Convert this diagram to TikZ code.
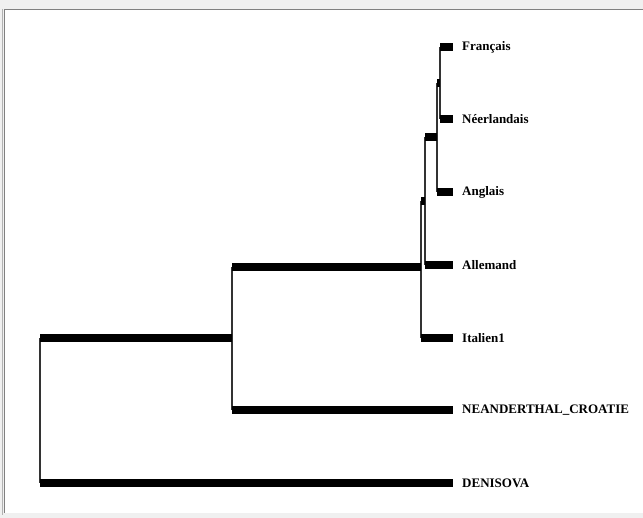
\documentclass[tikz,border=0pt]{standalone}
\usepackage{fontspec}
\setmainfont{Liberation Serif}
\usepackage{tikz}

\tikzset{
	branch/.style={line width=7.5pt, black},
	stem/.style={line width=1.3pt, black!80},
	leaf/.style={anchor=west, inner sep=0pt, font=\fontsize{13}{15}\selectfont\bfseries}
}

\begin{document}
\begin{tikzpicture}[x=1pt, y=-1pt]
	% frame of the window
	\fill[gray!12] (0,0) rectangle (643,518);
	\useasboundingbox (0,0) rectangle (643,518);
	\fill[white] (4,10) rectangle (643,513);
	\draw[gray, line width=1pt] (643,10) -- (4,10) -- (4,513);
	\draw[gray!60, line width=0.6pt] (2,9) -- (2,515);

	% leaves
	\coordinate (Fr) at (453,47);
	\coordinate (Ne) at (453,119);
	\coordinate (An) at (453,192);
	\coordinate (Al) at (453,265);
	\coordinate (It) at (453,338);
	\coordinate (Nc) at (453,410);
	\coordinate (De) at (453,483);
	\node[leaf] (lFr) at (462,47) {Français};
	\node[leaf] (lNe) at (462,119) {Néerlandais};
	\node[leaf] (lAn) at (462,192) {Anglais};
	\node[leaf] (lAl) at (462,265) {Allemand};
	\node[leaf] (lIt) at (462,338) {Italien1};
	\node[leaf] (lNc) at (462,410) {NEANDERTHAL\_CROATIE};
	\node[leaf] (lDe) at (462,483) {DENISOVA};

	% internal nodes
	\coordinate (n1) at (440,83);
	\coordinate (n2) at (437,137);
	\coordinate (n3) at (425,201);
	\coordinate (n4) at (421,267);
	\coordinate (n5) at (232,338);
	\coordinate (n6) at (40,410);

	% stems
	\draw[stem] (n1 |- Fr) -- (n1 |- Ne);
	\draw[stem] (n2 |- n1) -- (n2 |- An);
	\draw[stem] (n3 |- n2) -- (n3 |- Al);
	\draw[stem] (n4 |- n3) -- (n4 |- It);
	\draw[stem] (n5 |- n4) -- (n5 |- Nc);
	\draw[stem] (n6 |- n5) -- (n6 |- De);

	% branches
	\draw[branch] (n1 |- Fr) -- (Fr);
	\draw[branch] (n1 |- Ne) -- (Ne);
	\draw[branch] (n2 |- n1) -- (n1);
	\draw[branch] (n2 |- An) -- (An);
	\draw[branch] (n3 |- n2) -- (n2);
	\draw[branch] (n3 |- Al) -- (Al);
	\draw[branch] (n4 |- n3) -- (n3);
	\draw[branch] (n4 |- It) -- (It);
	\draw[branch] (n5 |- n4) -- (n4);
	\draw[branch] (n5 |- Nc) -- (Nc);
	\draw[branch] (n6 |- n5) -- (n5);
	\draw[branch] (n6 |- De) -- (De);
\end{tikzpicture}
\end{document}
